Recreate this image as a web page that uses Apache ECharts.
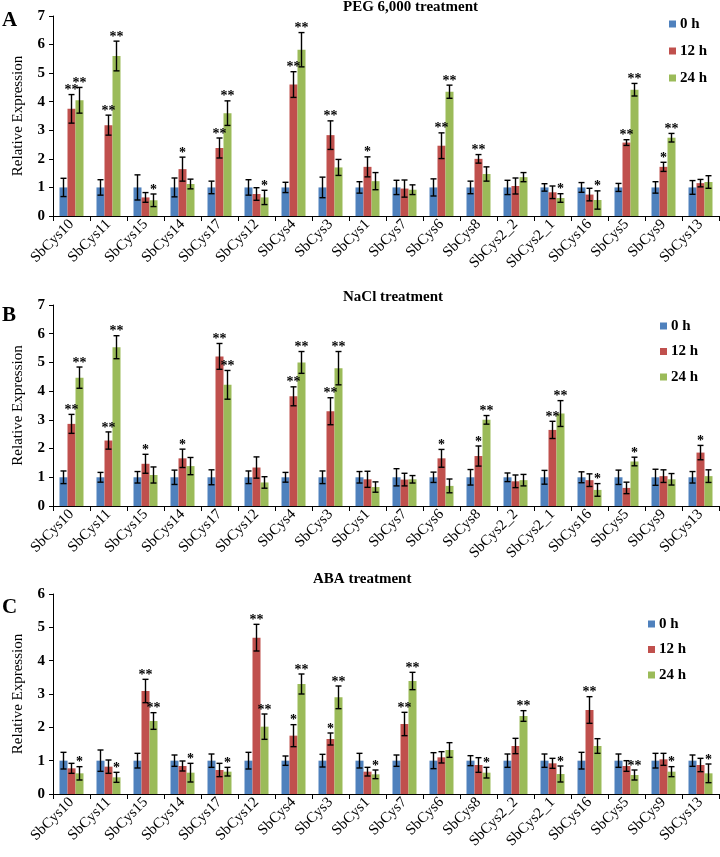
<!DOCTYPE html>
<html><head><meta charset="utf-8">
<script src="https://cdn.jsdelivr.net/npm/echarts@6/dist/echarts.min.js"></script>
<style>html,body{margin:0;padding:0;background:#fff}#c{width:720px;height:857px}</style>
</head><body><div id="c"></div><script>
const categories = ['SbCys10','SbCys11','SbCys15','SbCys14','SbCys17','SbCys12','SbCys4','SbCys3','SbCys1','SbCys7','SbCys6','SbCys8','SbCys2_2','SbCys2_1','SbCys16','SbCys5','SbCys9','SbCys13'];
const seriesNames = ['0 h','12 h','24 h'];
const panelTitles = ['PEG 6,000 treatment','NaCl treatment','ABA treatment'];
const panelLetters = ['A','B','C'];
const yMaxes = [7,7,6];

// Panel A: PEG 6,000
const pegBlue = [1,1,1,1,1,1,1,1,1,1,1,1,1,1,1,1,1,1];
const pegBlueErr = [0.32,0.27,0.44,0.33,0.22,0.27,0.18,0.36,0.2,0.25,0.3,0.22,0.25,0.13,0.17,0.14,0.2,0.24];
const peg12 = [3.75,3.18,0.65,1.64,2.38,0.77,4.6,2.83,1.72,0.96,2.46,2.0,1.05,0.83,0.75,2.57,1.72,1.15];
const peg12Err = [0.5,0.35,0.17,0.42,0.35,0.22,0.45,0.5,0.35,0.3,0.45,0.15,0.28,0.22,0.22,0.1,0.16,0.13];
const peg24 = [4.05,5.6,0.55,1.12,3.6,0.65,5.82,1.7,1.22,0.92,4.35,1.47,1.36,0.63,0.56,4.42,2.74,1.19];
const peg24Err = [0.45,0.52,0.22,0.17,0.43,0.25,0.6,0.28,0.3,0.17,0.23,0.25,0.16,0.15,0.32,0.22,0.15,0.22];
const peg12Sig = ['**','**','','*','**','','**','**','*','','**','**','','','','**','*',''];
const peg24Sig = ['**','**','*','','**','*','**','','','','**','','','*','*','**','**',''];

// Panel B: NaCl
const naclBlue = [1,1,1,1,1,1,1,1,1,1,1,1,1,1,1,1,1,1];
const naclBlueErr = [0.22,0.17,0.2,0.25,0.26,0.22,0.17,0.22,0.2,0.3,0.18,0.27,0.15,0.24,0.19,0.25,0.28,0.2];
const nacl12 = [2.86,2.28,1.47,1.66,5.21,1.34,3.82,3.3,0.93,0.92,1.66,1.74,0.86,2.65,0.9,0.63,1.04,1.86];
const nacl12Err = [0.33,0.3,0.33,0.32,0.45,0.37,0.33,0.47,0.28,0.22,0.31,0.35,0.22,0.3,0.22,0.2,0.22,0.25];
const nacl24 = [4.47,5.53,1.08,1.39,4.22,0.82,5.0,4.8,0.66,0.93,0.7,3.0,0.9,3.22,0.56,1.55,0.93,1.04];
const nacl24Err = [0.37,0.4,0.28,0.3,0.5,0.2,0.38,0.58,0.18,0.13,0.24,0.15,0.2,0.45,0.22,0.15,0.2,0.22];
const nacl12Sig = ['**','**','*','*','**','','**','**','','','*','*','','**','','','','*'];
const nacl24Sig = ['**','**','','','**','','**','**','','','','**','','**','*','*','',''];

// Panel C: ABA
const abaBlue = [1,1,1,1,1,1,1,1,1,1,1,1,1,1,1,1,1,1];
const abaBlueErr = [0.25,0.32,0.22,0.17,0.2,0.25,0.14,0.19,0.22,0.17,0.24,0.15,0.2,0.2,0.25,0.2,0.22,0.17];
const aba12 = [0.77,0.82,3.09,0.84,0.72,4.69,1.75,1.65,0.67,2.1,1.1,0.87,1.44,0.92,2.52,0.84,1.04,0.87];
const aba12Err = [0.15,0.2,0.35,0.15,0.2,0.4,0.33,0.18,0.13,0.35,0.17,0.22,0.23,0.15,0.4,0.16,0.18,0.2];
const aba24 = [0.62,0.5,2.19,0.64,0.67,2.02,3.3,2.9,0.59,3.39,1.32,0.64,2.34,0.6,1.44,0.57,0.67,0.62];
const aba24Err = [0.2,0.15,0.25,0.28,0.13,0.38,0.3,0.34,0.13,0.26,0.22,0.16,0.16,0.24,0.22,0.15,0.15,0.28];
const aba12Sig = ['','','**','','','**','*','*','','**','','','','','**','','',''];
const aba24Sig = ['*','*','**','*','*','**','**','**','*','**','','*','**','*','','**','*','*'];

const panels = [
  {vals:[pegBlue,peg12,peg24], errs:[pegBlueErr,peg12Err,peg24Err], sigs:[null,peg12Sig,peg24Sig]},
  {vals:[naclBlue,nacl12,nacl24], errs:[naclBlueErr,nacl12Err,nacl24Err], sigs:[null,nacl12Sig,nacl24Sig]},
  {vals:[abaBlue,aba12,aba24], errs:[abaBlueErr,aba12Err,aba24Err], sigs:[null,aba12Sig,aba24Sig]}
];

const COLORS = ['#4F81BD','#C0504D','#9BBB59'];
const FONT = 'Liberation Serif';
const BAR_W = 8;
const gridTops = [16, 305, 594];
const gridHeights = [200, 201, 200];
const titleTops = [0, 290, 572];
const titleLefts = [343, 343, 313];
const letterTops = [10, 305, 597];
const legendLefts = [669, 660, 648];
const legendTops = [16, 318, 616];
const legendGaps = [11, 9.5, 9.5];

const chart = echarts.init(document.getElementById('c'), null, {renderer:'canvas'});

const grid=[], xAxis=[], yAxis=[], series=[], title=[], legend=[];
panels.forEach((p, g) => {
  grid.push({left:53, width:666, top:gridTops[g], height:gridHeights[g]});
  xAxis.push({type:'category', gridIndex:g, data:categories,
    axisLine:{lineStyle:{color:'#000', width:1}},
    axisTick:{show:true, length:5, lineStyle:{color:'#000'}},
    axisLabel:{interval:0, rotate:45, color:'#000', fontFamily:FONT, fontSize:15, margin:6}});
  yAxis.push({type:'value', gridIndex:g, min:0, max:yMaxes[g], interval:1,
    name:'Relative Expression', nameLocation:'middle', nameGap:27,
    nameTextStyle:{fontFamily:FONT, fontSize:15, color:'#000'},
    axisLine:{show:true, lineStyle:{color:'#000', width:1}},
    axisTick:{show:true, length:4, lineStyle:{color:'#000'}},
    splitLine:{show:false},
    axisLabel:{color:'#000', fontFamily:FONT, fontSize:15, fontWeight:'bold', margin:8}});
  title.push({text:panelTitles[g], left:titleLefts[g], top:titleTops[g], padding:0,
    textStyle:{fontFamily:FONT, fontSize:15, fontWeight:'bold', color:'#000'}});
  title.push({text:panelLetters[g], left:2, top:letterTops[g], padding:0,
    textStyle:{fontFamily:FONT, fontSize:21, fontWeight:'bold', color:'#000'}});
  legend.push({data:seriesNames, orient:'vertical', left:legendLefts[g], top:legendTops[g],
    itemWidth:7, itemHeight:7, itemGap:legendGaps[g], icon:'rect', padding:0,
    selectedMode:false,
    textStyle:{fontFamily:FONT, fontSize:15, fontWeight:'bold', color:'#000', lineHeight:16, padding:[0,0,0,-1]}});
  for (let s=0; s<3; s++) {
    series.push({name:seriesNames[s], type:'bar', xAxisIndex:g, yAxisIndex:g,
      data:p.vals[s], barWidth:BAR_W, barGap:'0%', itemStyle:{color:COLORS[s]}, silent:true});
  }
  for (let s=0; s<3; s++) {
    const vals = p.vals[s], errs = p.errs[s], sig = p.sigs[s];
    series.push({type:'custom', xAxisIndex:g, yAxisIndex:g, silent:true, z:5,
      data: vals.map((v,i)=>[i, v, errs[i]]),
      renderItem: (params, api) => {
        const i = api.value(0), v = api.value(1), e = api.value(2);
        const hi = api.coord([i, v+e]), lo = api.coord([i, v-e]);
        const cx = hi[0] + (s-1)*BAR_W;
        const cap = 3;
        const st = {stroke:'#000', lineWidth:1.4};
        const children = [
          {type:'line', shape:{x1:cx, y1:hi[1], x2:cx, y2:lo[1]}, style:st},
          {type:'line', shape:{x1:cx-cap, y1:hi[1], x2:cx+cap, y2:hi[1]}, style:st},
          {type:'line', shape:{x1:cx-cap, y1:lo[1], x2:cx+cap, y2:lo[1]}, style:st}
        ];
        if (sig && sig[params.dataIndex]) {
          children.push({type:'text', style:{text:sig[params.dataIndex], x:cx, y:hi[1]+3,
            align:'center', verticalAlign:'bottom', fill:'#000',
            font:'bold 14px "Liberation Serif"'}});
        }
        return {type:'group', children};
      }});
  }
});

chart.setOption({animation:false, backgroundColor:'#fff', textStyle:{fontFamily:FONT},
  grid, xAxis, yAxis, series, title, legend});
</script></body></html>
